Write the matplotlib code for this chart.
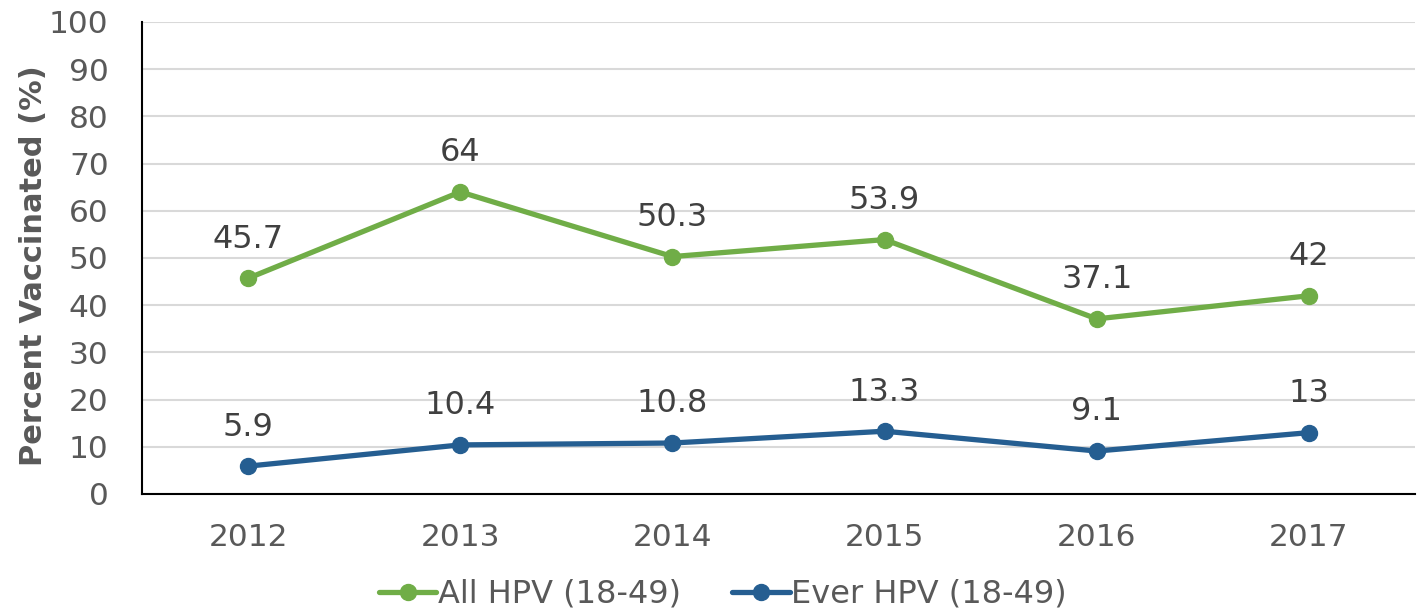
import matplotlib
matplotlib.use('Agg')
import matplotlib.pyplot as plt

years = ['2012', '2013', '2014', '2015', '2016', '2017']
all_hpv = [45.7, 64, 50.3, 53.9, 37.1, 42]
ever_hpv = [5.9, 10.4, 10.8, 13.3, 9.1, 13]
series_names = ['All HPV (18-49)', 'Ever HPV (18-49)']
y_ticks = list(range(0, 101, 10))

green = '#70AD47'
blue = '#255E91'
tick_color = '#595959'
label_color = '#404040'

plt.rcParams['font.family'] = ['DejaVu Sans']

fig = plt.figure(figsize=(14.23, 6.11), dpi=100)
ax = fig.add_axes([0.0998, 0.1915, 0.8946, 0.7725])

x = range(len(years))
for vals, color, name in [(all_hpv, green, series_names[0]), (ever_hpv, blue, series_names[1])]:
    ax.plot(x, vals, color=color, linewidth=3.8, marker='o', markersize=11.5, label=name,
            solid_capstyle='round')
    for xi, v in zip(x, vals):
        ax.annotate('%g' % v, (xi, v), xytext=(0, 17), textcoords='offset points',
                    ha='center', va='bottom', fontsize=23, color=label_color)

ax.set_xlim(-0.5, len(years) - 0.5)
ax.set_ylim(0, 100)
ax.set_xticks(list(x))
ax.set_xticklabels(years)
ax.set_yticks(y_ticks)
ax.tick_params(axis='both', length=0, labelsize=22.5, labelcolor=tick_color)
ax.tick_params(axis='x', pad=21)
ax.tick_params(axis='y', pad=24)
ax.grid(axis='y', color='#d9d9d9', linewidth=1.5)
ax.set_axisbelow(True)
for side in ['top', 'right']:
    ax.spines[side].set_visible(False)
for side in ['left', 'bottom']:
    ax.spines[side].set_color('black')
    ax.spines[side].set_linewidth(1.5)

ax.set_ylabel('Percent Vaccinated (%)', fontsize=22, fontweight='bold', color=tick_color)
ax.yaxis.set_label_coords(-0.074, 0.483)

fig.legend(loc='lower center', bbox_to_anchor=(0.508, -0.045), ncol=2, frameon=False,
           fontsize=23, labelcolor=tick_color, handlelength=1.8, handletextpad=0.05,
           columnspacing=1.6)

fig.savefig('out.png', dpi=100)
